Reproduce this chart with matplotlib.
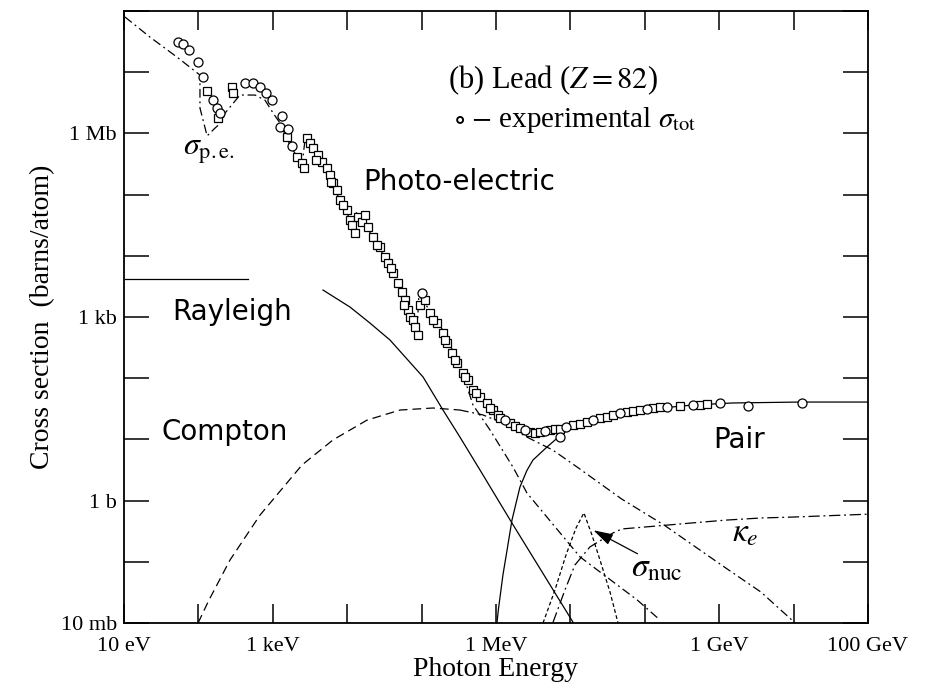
import numpy as np
import matplotlib.pyplot as plt

plt.rcParams['mathtext.fontset'] = 'stix'
plt.rcParams['font.family'] = ['Liberation Serif', 'DejaVu Serif']

# experimental sigma_tot points (photon energy in eV, cross section in barns)
circ_E = [53, 62, 75, 99, 115, 157, 178, 195, 423, 542, 673, 811, 975, 1330, 1250, 1600, 1810,
          1.01e5, 7.2e6, 1.32e6, 2.45e6, 4.56e6, 8.7e6, 2.0e7, 4.65e7, 1.07e8, 1.99e8, 4.45e8,
          1.03e9, 2.44e9, 1.3e10]
circ_s = [3.1e7, 2.9e7, 2.3e7, 1.47e7, 8.4e6, 3.5e6, 2.6e6, 2.15e6, 6.7e6, 6.7e6, 5.7e6, 4.6e6,
          3.5e6, 1.92e6, 1.27e6, 1.18e6, 6.2e5,
          2470, 10.9, 20.7, 14.3, 13.7, 16.0, 20.7, 27.0, 31.4, 33.8, 36.5, 39.4, 35.2, 39.4]
sq_E = [131, 283, 292, 183, 1550, 2110, 2470, 2620, 2880, 3160, 3470, 4060, 4580, 5350, 5870,
        6440, 7300, 8000, 9930, 1.09e4, 1.16e4, 1.27e4, 1.40e4, 1.58e4, 1.73e4, 1.9e4, 2.22e4,
        2.76e4, 3.22e4, 3.53e4, 4.13e4, 4.82e4, 5.46e4, 5.98e4, 6.56e4, 6.98e4, 7.66e4, 8.15e4,
        8.95e4, 9.5e4, 1.11e5, 1.30e5, 1.61e5, 1.94e5, 2.19e5, 2.56e5, 2.99e5, 3.6e5, 4.21e5,
        4.91e5, 6.1e5, 7.57e5, 9.1e5, 1.06e6, 1.13e6, 1.54e6, 1.8e6, 2.1e6, 2.86e6, 3.34e6,
        3.9e6, 5.3e6, 6.2e6, 7.2e6, 1.08e7, 1.35e7, 1.67e7, 2.5e7, 3.1e7, 3.74e7, 5.8e7, 6.9e7,
        8.6e7, 1.29e8, 1.6e8, 2.97e8, 5.5e8, 6.9e8,
        3810, 6050, 8790, 2.52e4, 3.88e4, 5.8e4, 1.42e5, 2.07e5, 2.81e5, 3.83e5, 5.38e5, 8.3e5]
sq_s = [4.9e6, 5.7e6, 4.6e6, 1.78e6, 8.7e5, 4.1e5, 3.3e5, 2.7e5, 8.4e5, 7.0e5, 5.8e5, 4.4e5,
        3.4e5, 2.7e5, 2.1e5, 1.55e5, 1.19e5, 8.2e4, 5.6e4, 3.85e4, 3.2e4, 2.36e4, 4.3e4, 3.6e4,
        4.6e4, 2.96e4, 2.03e4, 1.39e4, 9550, 7620, 5240, 3600, 2560, 1900, 1300, 1000, 893, 687,
        508, 1570, 1900, 1160, 798, 548, 376, 258, 177, 122, 93.5, 64, 49.3, 39.4, 30.2, 25.1,
        22.4, 18.5, 16.6, 15.3, 13.2, 12.7, 13.2, 14.3, 14.8, 14.8, 17.2, 17.9, 19.2, 22.4, 23.2,
        25.1, 28.1, 29.1, 30.2, 32.6, 33.8, 35.2, 36.5, 37.8,
        3.67e5, 1.61e5, 6.76e4, 1.5e4, 6320, 1570, 893, 421, 198, 105, 57.3, 32.6]

# photo-electric
pe_E = [10.3, 22.3, 51.5, 105, 105, 131, 167, 207, 228, 362, 577, 785, 1010, 1250, 1700, 2470,
        2710, 4300, 8000, 1.2e4, 1.31e4, 2.37e4, 5.1e4, 8.7e4, 9.2e4, 1.77e5, 3.28e5, 4.91e5,
        8.3e5, 1.69e6, 2.61e6, 1.35e7, 7.9e7, 1.6e8]
pe_s = [8.0e7, 3.76e7, 1.77e7, 9.0e6, 2.6e6, 9.1e5, 1.22e6, 1.54e6, 2.15e6, 4.24e6, 4.24e6,
        3.5e6, 2.15e6, 1.48e6, 6.5e5, 3.05e5, 7.8e5, 3.67e5, 8.2e4, 3.2e4, 5.2e4, 1.81e4, 3340,
        614, 2290, 740, 164, 36.5, 14.3, 3.54, 1.33, 0.12, 0.0238, 0.0112]

# Rayleigh
ray_low_E = [10.3, 464]
ray_low_s = [4180, 4180]
ray_E = [4730, 1.09e4, 2.02e4, 3.76e4, 1.045e5, 1.94e5, 3.28e5, 6.1e5, 1.64e6, 1.08e7]
ray_s = [2760, 1456, 798, 421, 105, 30.2, 10.9, 3.16, 0.43, 0.0104]

# Compton
comp_E = [99, 139, 266, 673, 2470, 6440, 1.85e4, 5.13e4, 1.42e5, 3.28e5]
comp_s = [0.01, 0.0238, 0.107, 0.58, 3.82, 9.8, 20.7, 30.2, 32.6, 30.2]
comp_hi_E = [3.28e5, 6.7e5, 1.32e6, 2.61e6, 5.8e6, 1.23e7, 4.9e7, 1.81e8, 1.23e9, 3.65e9, 1.05e10]
comp_hi_s = [30.2, 25.1, 17.9, 10.9, 6.7, 3.54, 1.06, 0.4, 0.079, 0.032, 0.01]

# pair production, nuclear field
pair_E = [1.03e6, 1.08e6, 1.13e6, 1.24e6, 1.41e6, 1.64e6, 2.1e6, 2.6e6, 3.14e6, 4.84e6, 7.96e6,
          1.35e7, 2.5e7, 8.6e7, 4.45e8, 1.53e9, 1.22e10, 1e11]
pair_s = [0.01, 0.017, 0.0257, 0.061, 0.156, 0.48, 1.67, 3.1, 4.6, 7.5, 12.7, 18.5, 22.4, 30.2,
          36.5, 39.4, 40.8, 40.8]

# pair production, electron field
ke_E = [5.8e6, 8.45e6, 1.15e7, 1.83e7, 3.74e7, 4.9e7, 1.46e8, 4.18e8, 1.23e9, 3.65e9, 1.05e10, 1e11]
ke_s = [0.01, 0.0346, 0.0887, 0.175, 0.296, 0.344, 0.385, 0.43, 0.48, 0.52, 0.54, 0.6]

# photonuclear
nuc_E = [4.29e6, 6.2e6, 8.73e6, 1.19e7, 1.52e7, 1.95e7, 2.5e7, 3.41e7, 4.37e7]
nuc_s = [0.01, 0.0346, 0.129, 0.356, 0.63, 0.274, 0.107, 0.032, 0.01]

xticks = [1e1, 1e2, 1e3, 1e4, 1e5, 1e6, 1e7, 1e8, 1e9, 1e10, 1e11]
xlabels = ['10 eV', '', '1 keV', '', '', '1 MeV', '', '', '1 GeV', '', '100 GeV']
yticks = [1e-2, 1e-1, 1e0, 1e1, 1e2, 1e3, 1e4, 1e5, 1e6, 1e7, 1e8]
ylabels = ['10 mb', '', '1 b', '', '', '1 kb', '', '', '1 Mb', '', '']

fig = plt.figure(figsize=(9.33, 6.9), dpi=100)
ax = fig.add_axes([0.1329, 0.0971, 0.7974, 0.8869])

dashdot = (0, (7, 3, 1.5, 3))
lw = 0.9
ax.plot(pe_E, pe_s, color='k', lw=lw, ls=dashdot, zorder=2)
ax.plot(ray_low_E, ray_low_s, color='k', lw=lw, zorder=2)
ax.plot(ray_E, ray_s, color='k', lw=lw, zorder=2)
ax.plot(comp_E, comp_s, color='k', lw=lw, ls=(0, (7, 4)), zorder=2)
ax.plot(comp_hi_E, comp_hi_s, color='k', lw=lw, ls=dashdot, zorder=2)
ax.plot(pair_E, pair_s, color='k', lw=lw, zorder=2)
ax.plot(ke_E, ke_s, color='k', lw=lw, ls=(0, (9, 3, 1.5, 3)), zorder=2)
ax.plot(nuc_E, nuc_s, color='k', lw=lw, ls=(0, (3, 2)), zorder=2)

ax.plot(sq_E, sq_s, ls='none', marker='s', ms=5.5, mfc='white', mec='k', mew=0.9, zorder=3)
ax.plot(circ_E, circ_s, ls='none', marker='o', ms=6.5, mfc='white', mec='k', mew=0.9, zorder=3)

ax.set_xscale('log')
ax.set_yscale('log')
ax.set_xlim(1e1, 1e11)
ax.set_ylim(1e-2, 1e8)
ax.set_xticks(xticks)
ax.set_xticklabels(xlabels)
ax.set_yticks(yticks)
ax.set_yticklabels(ylabels)
ax.minorticks_off()
ax.tick_params(axis='both', direction='in', top=True, right=True, width=1.1, labelsize=16)
ax.tick_params(axis='y', length=18, pad=5)
ax.tick_params(axis='x', length=14, pad=10)
for s in ax.spines.values():
    s.set_linewidth(1.3)

ax.set_xlabel('Photon Energy', fontsize=20, labelpad=1)
ax.set_ylabel('Cross section  (barns/atom)', fontsize=20, labelpad=4)

sans = 'DejaVu Sans'
ax.text(0.321, 0.721, 'Photo-electric', transform=ax.transAxes, fontsize=20, family=sans, va='center')
ax.text(0.065, 0.508, 'Rayleigh', transform=ax.transAxes, fontsize=20, family=sans, va='center')
ax.text(0.051, 0.312, 'Compton', transform=ax.transAxes, fontsize=20, family=sans, va='center')
ax.text(0.792, 0.299, 'Pair', transform=ax.transAxes, fontsize=20, family=sans, va='center')
ax.text(0.079, 0.77, r'$\sigma_{\rm p.e.}$', transform=ax.transAxes, fontsize=23, va='center')
ax.text(0.817, 0.147, r'$\kappa_e$', transform=ax.transAxes, fontsize=24, va='center')
ax.text(0.681, 0.09, r'$\sigma_{\rm nuc}$', transform=ax.transAxes, fontsize=24, va='center')
ax.text(0.435, 0.887, r'(b) Lead ($Z = 82$)', transform=ax.transAxes, fontsize=22, va='center')
ax.text(0.444, 0.822, r'$\circ$ $-$ experimental $\sigma_{\rm tot}$', transform=ax.transAxes,
        fontsize=21, va='center')

ax.annotate('', xy=(1.89e7, 0.344), xytext=(8.6e7, 0.129),
            arrowprops=dict(arrowstyle='-|>,head_length=1.2,head_width=0.35', color='k', lw=0.9))

fig.savefig('out.png', dpi=100)
